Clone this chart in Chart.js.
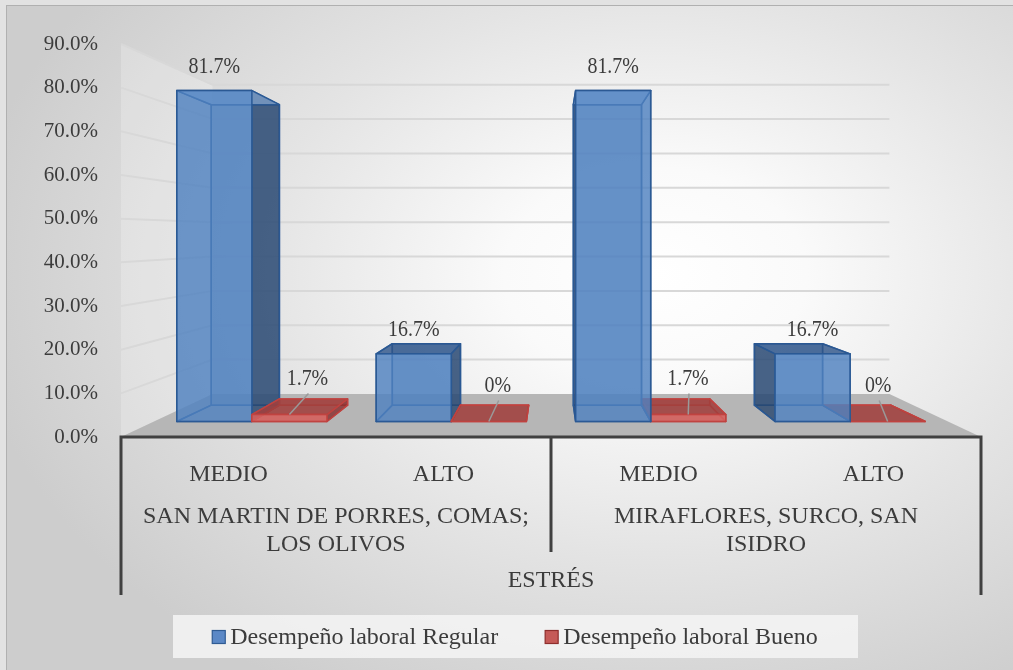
<!DOCTYPE html>
<html>
<head>
<meta charset="utf-8">
<script src="https://cdn.jsdelivr.net/npm/chart.js@4.4.0/dist/chart.umd.min.js"></script>
<style>
html, body { margin: 0; padding: 0; background: #e2e2e2; }
#wrap { position: relative; width: 1013px; height: 670px; overflow: hidden; }
#bg {
    position: absolute; left: 6px; top: 5px; width: 1013px; height: 670px;
    border-left: 1px solid #b0b0b0; border-top: 1px solid #b0b0b0;
    background: radial-gradient(ellipse 68% 72% at 64% 40%, #ffffff 0%, #fafafa 22%, #e4e4e4 58%, #cdcdcd 100%);
}
canvas { position: absolute; left: 0; top: 0; }
</style>
</head>
<body>
<div id="wrap"><div id="bg"></div><canvas id="chart" width="1013" height="670"></canvas></div>
<script>
const categories = ['MEDIO', 'ALTO', 'MEDIO', 'ALTO'];
const groups = [['SAN MARTIN DE PORRES, COMAS;', 'LOS OLIVOS'], ['MIRAFLORES, SURCO, SAN', 'ISIDRO']];
const axisTitle = 'ESTRÉS';
const seriesNames = ['Desempeño laboral Regular', 'Desempeño laboral Bueno'];
const regularValues = [81.7, 16.7, 81.7, 16.7];
const buenoValues = [1.7, 0, 1.7, 0];

const FONT = 'Liberation Serif';
const TEXT = '#3c3c3c';

// perspective factors
const FRONT = 0.9275;   // axis plane -> front of the columns
const DEPTH = 0.908;    // front -> back of the columns
const WALL = 0.787;     // axis plane -> back wall

const palettes = [
    { front: 'rgba(79,129,192,0.82)', back: 'rgba(79,129,192,0.30)', side: 'rgba(40,70,110,0.80)',
      top: 'rgba(48,86,138,0.82)', under: 'rgba(150,190,240,0.50)', edge: 'rgba(42,88,148,0.95)' },
    { front: 'rgba(212,96,93,0.90)', back: 'rgba(192,80,77,0.30)', side: 'rgba(135,45,45,0.80)',
      top: 'rgba(160,64,62,0.88)', under: 'rgba(220,120,120,0.5)', edge: 'rgba(192,66,63,0.95)' }
];

function fmt(v) {
    return v === 0 ? '0%' : v.toFixed(1) + '%';
}

function midX(ca) { return (ca.left + ca.right) / 2; }
function vpY(ca, f) { return ca.top + (ca.bottom - ca.top) * f; }
function toFront(ca, x, y) {
    const cx = midX(ca), cy = vpY(ca, 0.455);
    return [cx + (x - cx) * FRONT, cy + (y - cy) * FRONT];
}
function toBack(ca, p, k) {
    const cx = midX(ca), cy = vpY(ca, 0.509);
    return [cx + (p[0] - cx) * k, cy + (p[1] - cy) * k];
}
function toWall(ca, x, y) {
    const cx = midX(ca), cy = vpY(ca, 0.486);
    return [cx + (x - cx) * WALL, cy + (y - cy) * WALL];
}

function poly(ctx, pts, fill, stroke) {
    ctx.beginPath();
    ctx.moveTo(pts[0][0], pts[0][1]);
    for (let i = 1; i < pts.length; i++) ctx.lineTo(pts[i][0], pts[i][1]);
    ctx.closePath();
    if (fill) { ctx.fillStyle = fill; ctx.fill(); }
    if (stroke) { ctx.strokeStyle = stroke; ctx.stroke(); }
}

function boxCorners(ca, el) {
    const { x, y, base, width } = el.getProps(['x', 'y', 'base', 'width'], true);
    const F = {
        lt: toFront(ca, x - width / 2, y), rt: toFront(ca, x + width / 2, y),
        lb: toFront(ca, x - width / 2, base), rb: toFront(ca, x + width / 2, base)
    };
    const B = {};
    Object.keys(F).forEach(k => { B[k] = toBack(ca, F[k], DEPTH); });
    return { F, B };
}

function drawBox(ctx, ca, el, pal) {
    const { F, B } = boxCorners(ca, el);
    ctx.lineWidth = 1.5;
    ctx.lineJoin = 'round';
    poly(ctx, [B.lt, B.rt, B.rb, B.lb], pal.back, pal.edge);
    poly(ctx, [F.lb, F.rb, B.rb, B.lb], null, pal.edge);
    const leftVis = B.lt[0] < F.lt[0];
    const rightVis = B.rt[0] > F.rt[0];
    const topVis = B.lt[1] < F.lt[1];
    poly(ctx, [F.lt, B.lt, B.lb, F.lb], leftVis ? pal.side : null, pal.edge);
    poly(ctx, [F.rt, B.rt, B.rb, F.rb], rightVis ? pal.side : null, pal.edge);
    poly(ctx, [F.lt, F.rt, B.rt, B.lt], topVis ? pal.top : pal.under, pal.edge);
    if (F.lb[1] - F.lt[1] > 0.5) {
        poly(ctx, [F.lt, F.rt, F.rb, F.lb], pal.front, pal.edge);
    }
}

function drawValue(ctx, text, x, y) {
    ctx.save();
    ctx.translate(x, y);
    ctx.scale(0.83, 1);
    ctx.font = '24px "' + FONT + '"';
    ctx.fillStyle = TEXT;
    ctx.textAlign = 'center';
    ctx.textBaseline = 'middle';
    ctx.fillText(text, 0, 0);
    ctx.restore();
}

const scene3d = {
    id: 'scene3d',
    beforeDraw(chart) {
        const ctx = chart.ctx, ca = chart.chartArea, ys = chart.scales.y;
        ctx.save();
        // left wall
        const wt = toWall(ca, ca.left, ca.top), wb = toWall(ca, ca.left, ca.bottom);
        poly(ctx, [[ca.left, ca.top], wt, wb, [ca.left, ca.bottom]], 'rgba(255,255,255,0.22)', null);
        // floor
        const fr = toWall(ca, ca.right, ca.bottom);
        poly(ctx, [[ca.left, ca.bottom], [ca.right, ca.bottom], fr, wb], '#b6b6b6', null);
        // grid lines on left wall and back wall
        ctx.lineWidth = 2;
        ctx.strokeStyle = '#d8d8d8';
        ys.ticks.forEach(t => {
            if (t.value === 0) return;
            const py = ys.getPixelForValue(t.value);
            const a = toWall(ca, ca.left, py), b = toWall(ca, ca.right, py);
            ctx.beginPath();
            ctx.moveTo(ca.left, py);
            ctx.lineTo(a[0], a[1]);
            ctx.lineTo(b[0], b[1]);
            ctx.stroke();
        });
        ctx.restore();
    },
    beforeDatasetsDraw(chart) {
        const ctx = chart.ctx, ca = chart.chartArea;
        const cx = midX(ca);
        const items = [];
        chart.data.datasets.forEach((ds, i) => {
            chart.getDatasetMeta(i).data.forEach(el => items.push({ el, pal: palettes[i] }));
        });
        // paint the columns furthest from the centre first
        items.sort((a, b) => Math.abs(b.el.x - cx) - Math.abs(a.el.x - cx));
        ctx.save();
        items.forEach(it => drawBox(ctx, ca, it.el, it.pal));
        ctx.restore();
        return false;
    },
    afterDraw(chart) {
        const ctx = chart.ctx, ca = chart.chartArea;
        const xs = chart.scales.x, x2 = chart.scales.x2;
        ctx.save();
        // category axis frame
        ctx.strokeStyle = '#404040';
        ctx.lineWidth = 3;
        ctx.beginPath();
        ctx.moveTo(ca.left - 1.5, ca.bottom);
        ctx.lineTo(ca.right + 1.5, ca.bottom);
        ctx.moveTo(ca.left, ca.bottom);
        ctx.lineTo(ca.left, x2.bottom);
        ctx.moveTo(ca.right, ca.bottom);
        ctx.lineTo(ca.right, x2.bottom);
        const sep = (xs.getPixelForTick(1) + xs.getPixelForTick(2)) / 2;
        ctx.moveTo(sep, ca.bottom);
        ctx.lineTo(sep, x2.top + 65);
        ctx.stroke();

        // value labels
        chart.data.datasets.forEach((ds, i) => {
            chart.getDatasetMeta(i).data.forEach((el, j) => {
                const { F } = boxCorners(ca, el);
                const fx = (F.lt[0] + F.rt[0]) / 2, fy = F.lt[1];
                const text = fmt(ds.data[j]);
                if (i === 0) {
                    drawValue(ctx, text, fx, fy - 24);
                } else {
                    const mid = toBack(ca, [fx, fy], (1 + DEPTH) / 2);
                    const lx = mid[0] + 6, ly = fy - 36;
                    ctx.strokeStyle = '#9a9a9a';
                    ctx.lineWidth = 1.5;
                    ctx.beginPath();
                    ctx.moveTo(lx + 1, ly + 15);
                    ctx.lineTo(fx, fy);
                    ctx.stroke();
                    drawValue(ctx, text, lx, ly);
                }
            });
        });

        // legend
        ctx.font = '24px "' + FONT + '"';
        const box = 13, gap = 5, spacing = 47;
        const entries = chart.data.datasets.map(d => ({
            text: d.label, fill: d.backgroundColor, stroke: d.borderColor, w: ctx.measureText(d.label).width
        }));
        const total = entries.reduce((a, e) => a + box + gap + e.w, 0) + spacing * (entries.length - 1);
        const lcx = midX(ca) - 36, lcy = x2.bottom + 42;
        ctx.fillStyle = 'rgba(244,244,244,0.85)';
        ctx.fillRect(lcx - 342, lcy - 22, 685, 43);
        let lx = lcx - total / 2;
        ctx.textAlign = 'left';
        ctx.textBaseline = 'middle';
        entries.forEach(e => {
            ctx.fillStyle = e.fill;
            ctx.fillRect(lx, lcy - box / 2, box, box);
            ctx.lineWidth = 1.2;
            ctx.strokeStyle = e.stroke;
            ctx.strokeRect(lx, lcy - box / 2, box, box);
            ctx.fillStyle = TEXT;
            ctx.fillText(e.text, lx + box + gap, lcy + 1);
            lx += box + gap + e.w + spacing;
        });
        ctx.restore();
    }
};

new Chart(document.getElementById('chart'), {
    type: 'bar',
    data: {
        labels: categories,
        datasets: [
            { label: seriesNames[0], data: regularValues, backgroundColor: '#5b88c6', borderColor: '#2f5b93' },
            { label: seriesNames[1], data: buenoValues, backgroundColor: '#c55a57', borderColor: '#8e2e2c' }
        ]
    },
    options: {
        responsive: false,
        animation: false,
        layout: { padding: { left: 20, right: 32, top: 44, bottom: 75 } },
        datasets: { bar: { categoryPercentage: 0.753, barPercentage: 1 } },
        plugins: { legend: { display: false }, tooltip: { enabled: false } },
        scales: {
            y: {
                min: 0, max: 90,
                grid: { display: false }, border: { display: false },
                ticks: { stepSize: 10, padding: 15, color: TEXT, font: { family: FONT, size: 21 },
                         callback: v => v.toFixed(1) + '%' },
                afterFit: s => { s.width = 101; }
            },
            x: {
                weight: 0,
                grid: { display: false }, border: { display: false },
                ticks: { padding: 15, maxRotation: 0, color: TEXT, font: { family: FONT, size: 24 } },
                afterFit: s => { s.height = 50; }
            },
            x2: {
                type: 'category', labels: groups, position: 'bottom', offset: true, weight: 1,
                grid: { display: false }, border: { display: false },
                ticks: { padding: 7, maxRotation: 0, color: TEXT, font: { family: FONT, size: 24 } },
                title: { display: true, text: axisTitle, padding: 0, color: TEXT, font: { family: FONT, size: 24 } },
                afterFit: s => { s.height = 108; }
            }
        }
    },
    plugins: [scene3d]
});
</script>
</body>
</html>
